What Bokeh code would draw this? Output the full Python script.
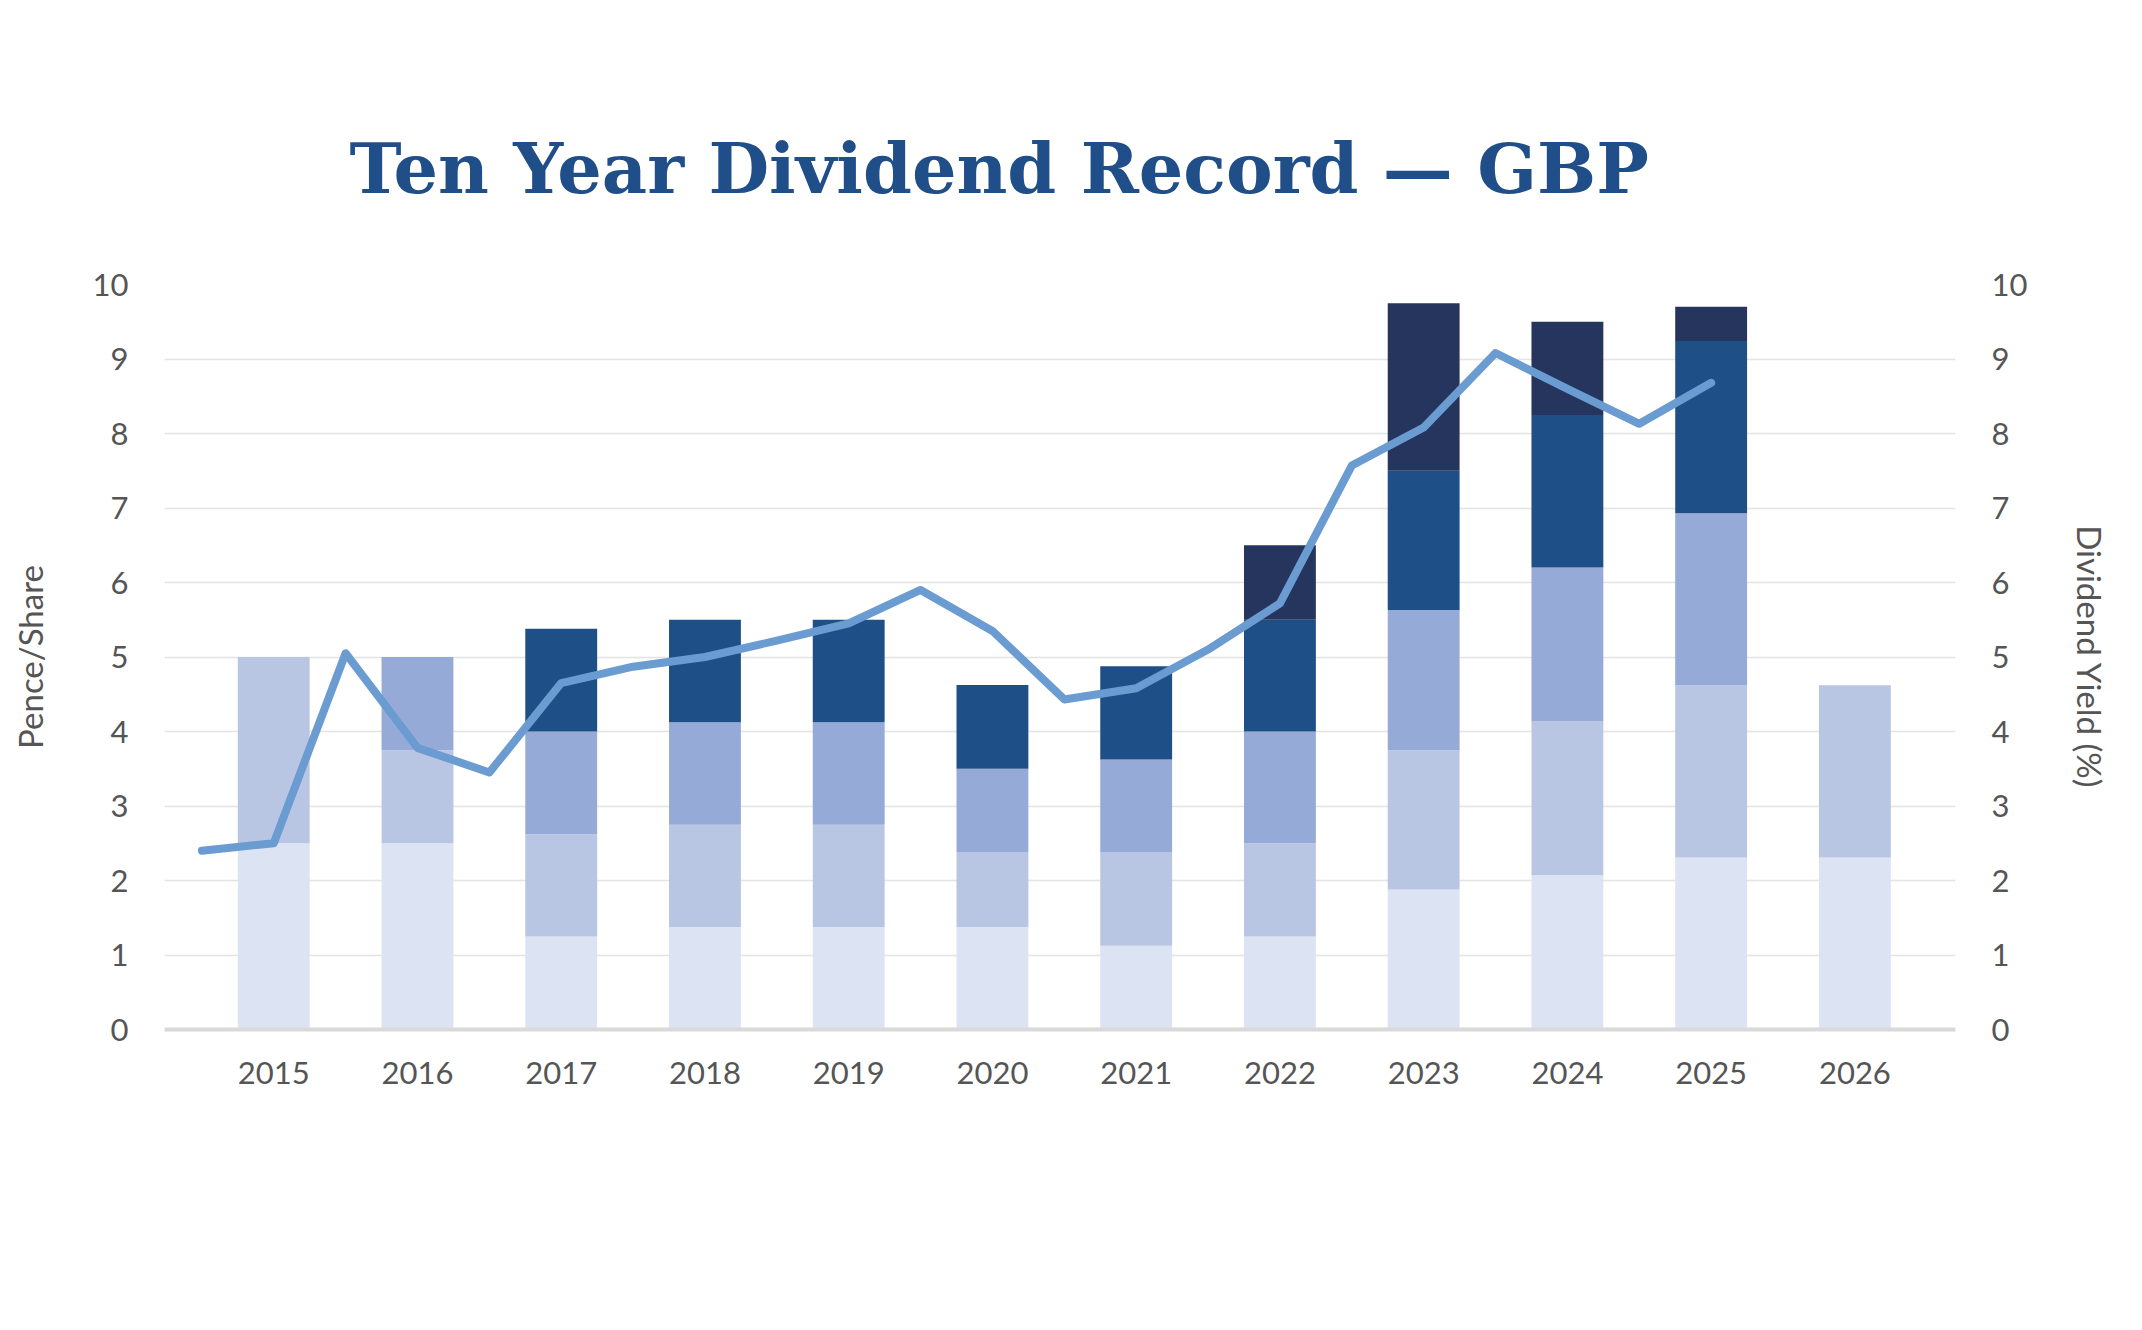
import numpy as np
from bokeh.plotting import figure
from bokeh.models import (Range1d, LinearAxis, FixedTicker, Legend, LegendItem, ColumnDataSource)
from bokeh.embed import file_html
from bokeh.resources import INLINE

years = ["2015","2016","2017","2018","2019","2020","2021","2022","2023","2024","2025","2026"]
first_interim  = [2.5, 2.5, 1.25, 1.375, 1.375, 1.375, 1.125, 1.25, 1.88, 2.07, 2.31, 2.31]
second_interim = [2.5, 1.25, 1.37, 1.375, 1.375, 1.0, 1.25, 1.25, 1.87, 2.07, 2.31, 2.31]
third_interim  = [0, 1.25, 1.38, 1.375, 1.375, 1.125, 1.25, 1.5, 1.88, 2.06, 2.31, 0]
fourth_interim = [0, 0, 1.38, 1.375, 1.375, 1.125, 1.25, 1.5, 1.87, 2.05, 2.31, 0]
top_up         = [0, 0, 0, 0, 0, 0, 0, 1.0, 2.25, 1.25, 0.46, 0]
yield_x = [i * 0.5 - 0.5 for i in range(22)]
yield_vals = [2.4, 2.5, 5.05, 3.78, 3.45, 4.65, 4.87, 5.0, 5.22, 5.45, 5.9, 5.35,
              4.43, 4.58, 5.1, 5.72, 7.57, 8.08, 9.08, 8.6, 8.13, 8.68]

names = ["First Interim", "Second Interim", "Third Interim", "Fourth Interim", "Top Up"]
colors = ["#dce3f2", "#b8c6e3", "#96aad7", "#1f4f87", "#25355e"]
series = [first_interim, second_interim, third_interim, fourth_interim, top_up]

FONT = "Lato"
p = figure(frame_width=1791, frame_height=745, output_backend="svg", toolbar_location=None,
           x_range=Range1d(-0.76, 11.7), y_range=Range1d(0, 10),
           min_border_left=164, min_border_right=171, min_border_top=284, min_border_bottom=60)
p.outline_line_color = None
p.background_fill_color = "white"

p.title.text = "Ten Year Dividend Record \u2014 GBP"
p.title.text_font = "DejaVu Serif"
p.title.text_font_style = "bold"
p.title.text_font_size = "70px"
p.title.text_color = "#1f4e89"
p.title.align = "left"
p.title.offset = 185
p.title.standoff = 150

xs = list(range(len(years)))
data = {"x": xs}
for n, s in zip(names, series):
    data[n] = s
src = ColumnDataSource(data)
p.vbar_stack(names, x="x", width=0.5, source=src, color=colors, line_color=None)

p.extra_y_ranges = {"yld": Range1d(0, 10)}
p.line(yield_x, yield_vals, y_range_name="yld", line_color="#6a9bd1", line_width=8,
       line_join="round", line_cap="round")

p.xaxis.ticker = FixedTicker(ticks=xs)
p.xaxis.major_label_overrides = {i: y for i, y in enumerate(years)}
p.yaxis.ticker = FixedTicker(ticks=list(range(11)))
ax_r = LinearAxis(y_range_name="yld", ticker=FixedTicker(ticks=list(range(11))),
                  axis_label="Dividend Yield (%)")
p.add_layout(ax_r, "right")
p.yaxis[0].axis_label = "Pence/Share"
for ax in p.yaxis + p.xaxis:
    ax.major_tick_line_color = None
    ax.minor_tick_line_color = None
    ax.major_label_text_font = FONT
    ax.major_label_text_font_size = "31px"
    ax.major_label_text_color = "#555555"
    ax.axis_label_text_font = FONT
    ax.axis_label_text_font_size = "33px"
    ax.axis_label_text_font_style = "normal"
    ax.axis_label_text_color = "#555555"
for ax in p.yaxis:
    ax.axis_line_color = None
    ax.major_label_standoff = 30
    ax.axis_label_standoff = 40
p.xaxis.axis_line_color = "#d9d9d9"
p.xaxis.axis_line_width = 4
p.xaxis.major_label_standoff = 26
p.xgrid.grid_line_color = None
p.ygrid.grid_line_color = "#e3e3e3"
p.ygrid.grid_line_width = 1.5

items = []
for n, c in zip(names, colors):
    r = p.scatter([np.nan], [np.nan], marker="circle", size=30, color=c)
    items.append(LegendItem(label=n, renderers=[r]))
rl = p.line([np.nan], [np.nan], line_color="#6a9bd1", line_width=8)
items.append(LegendItem(label="Dividend Yield", renderers=[rl]))
leg = Legend(items=items, orientation="horizontal", location="center",
             label_text_font=FONT, label_text_font_size="34px", label_text_color="#444444",
             glyph_width=70, glyph_height=70, label_standoff=2, spacing=60,
             border_line_color=None, margin=70, padding=0)
p.add_layout(leg, "below")

open("out.html", "w").write(file_html(p, INLINE))
